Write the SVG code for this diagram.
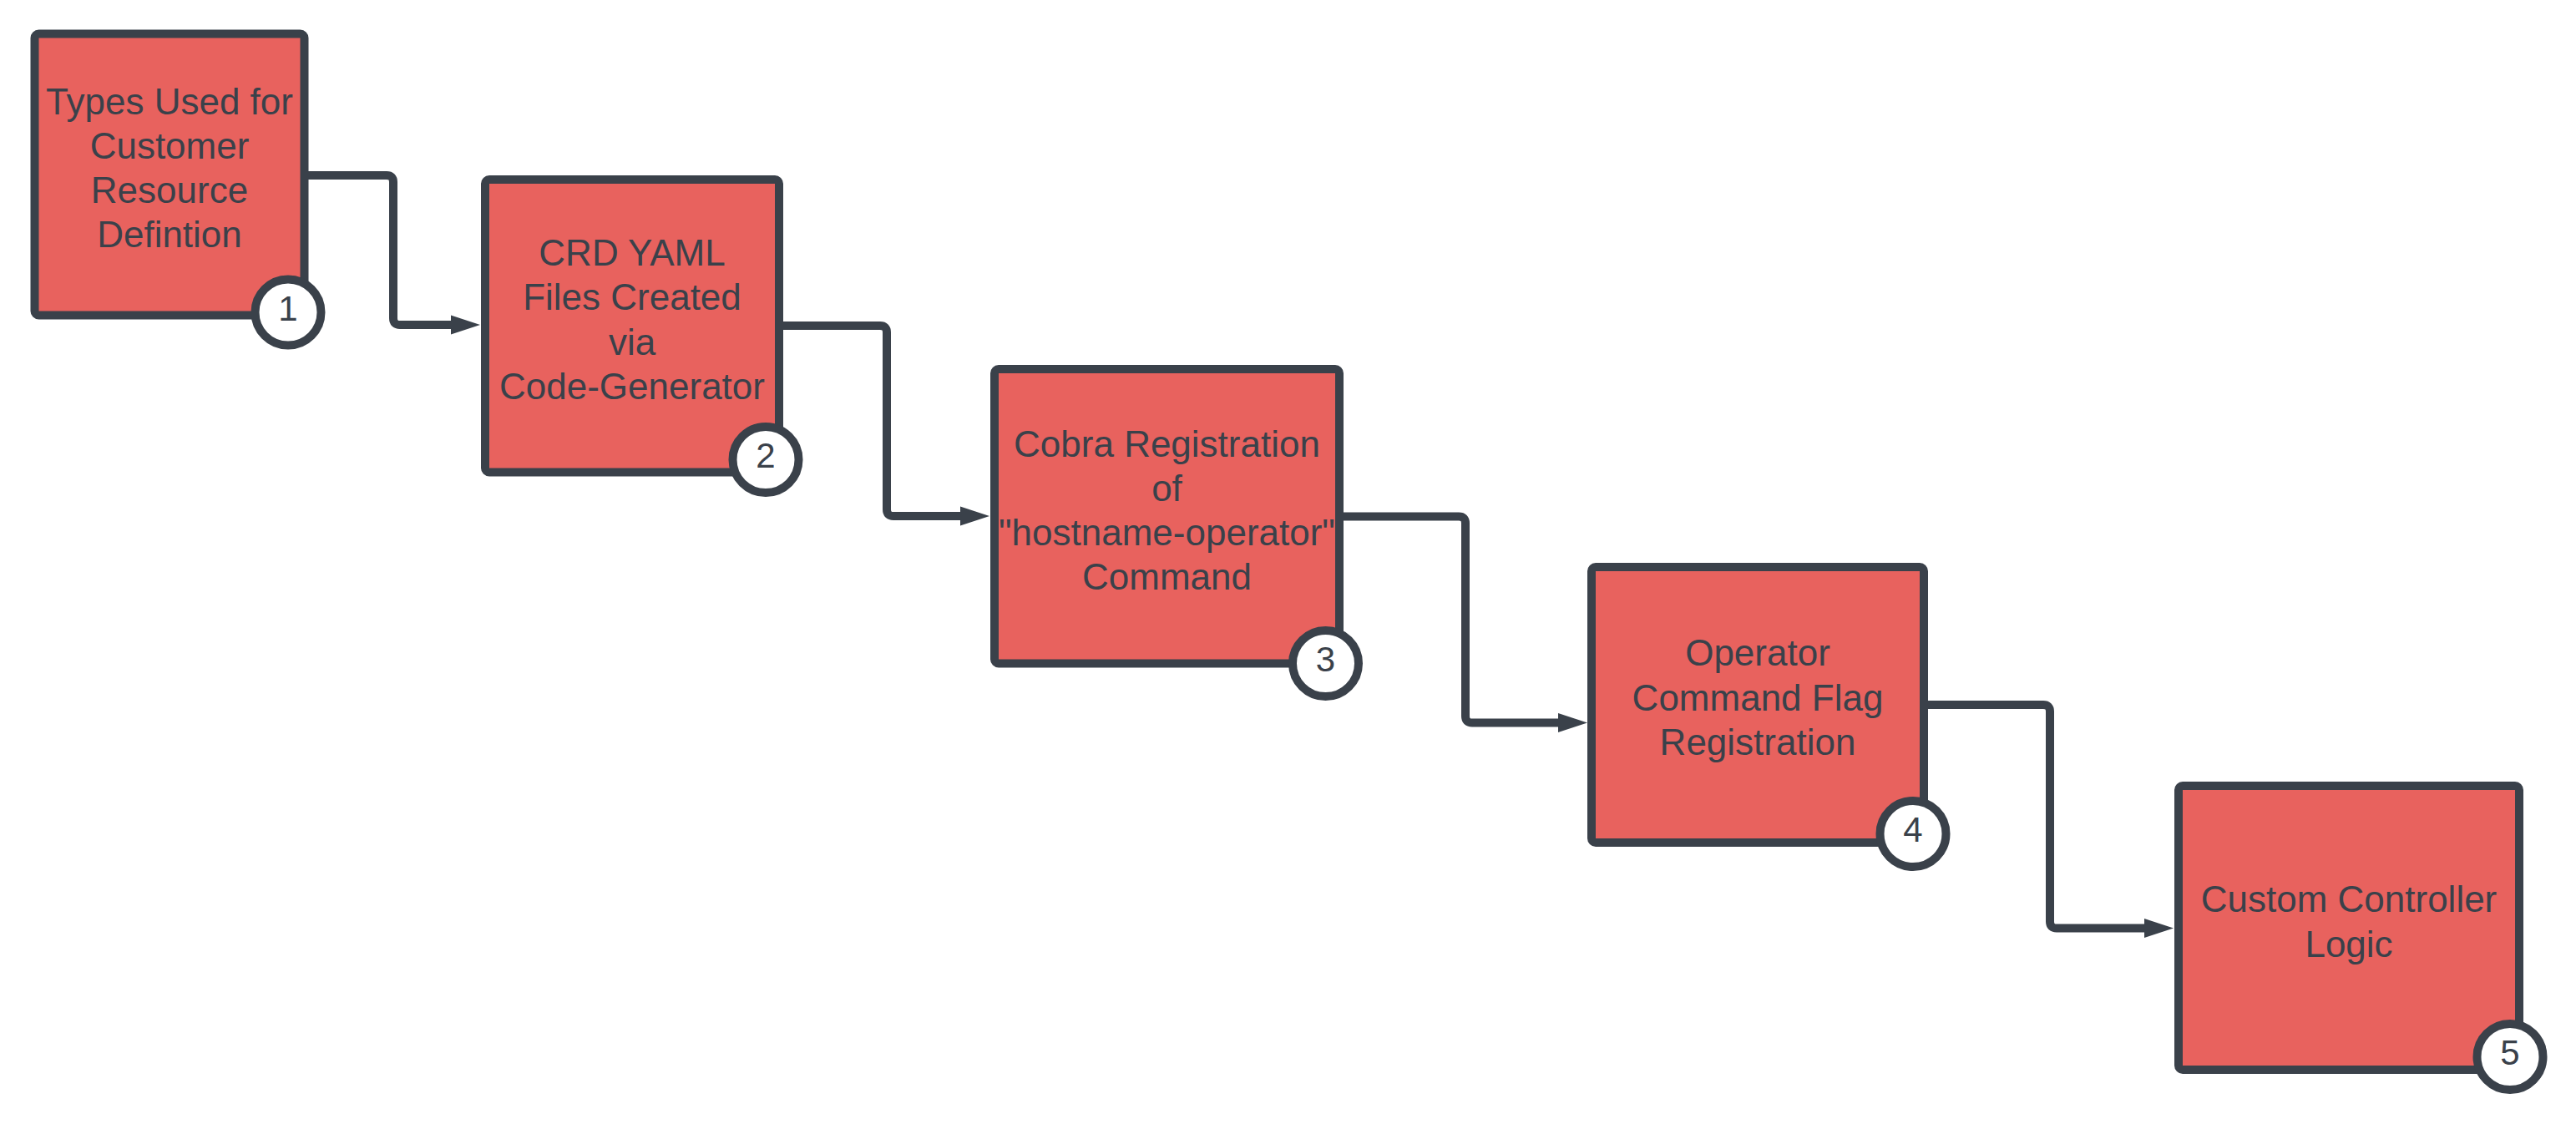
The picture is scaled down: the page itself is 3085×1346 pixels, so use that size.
<svg xmlns="http://www.w3.org/2000/svg" width="3085" height="1346" viewBox="0 0 3085 1346">
<style>
.box{fill:#e8625e;stroke:#3a414a;stroke-width:10}
.badge{fill:#ffffff;stroke:#3a414a;stroke-width:10}
.lbl{font-family:"Liberation Sans",Arial,sans-serif;font-size:44px;fill:#3a414a;text-anchor:middle}
.num{font-family:"Liberation Sans",Arial,sans-serif;font-size:42px;fill:#3a414a;text-anchor:middle}
.conn{fill:none;stroke:#3a414a;stroke-width:10;stroke-linejoin:round}
</style>
<defs>
<marker id="arrow" markerUnits="userSpaceOnUse" markerWidth="36" markerHeight="24" refX="0" refY="12" orient="auto">
<path d="M0,0.5 L35,12 L0,23.5 Z" fill="#3a414a"/>
</marker>
</defs>
<rect width="3085" height="1346" fill="#ffffff"/>
<g id="node1">
<rect class="box" x="41.5" y="40.5" width="323" height="337" rx="5"/>
<text class="lbl" x="203" y="136.5">Types Used for</text>
<text class="lbl" x="203" y="189.6">Customer</text>
<text class="lbl" x="203" y="242.7">Resource</text>
<text class="lbl" x="203" y="295.8">Defintion</text>
<circle class="badge" cx="345" cy="374" r="39.5"/>
<text class="num" x="345" y="383.5">1</text>
</g>
<g id="node2">
<rect class="box" x="581" y="215" width="352" height="350.5" rx="5"/>
<text class="lbl" x="757" y="318.3">CRD YAML</text>
<text class="lbl" x="757" y="371.4">Files Created</text>
<text class="lbl" x="757" y="424.5">via</text>
<text class="lbl" x="757" y="477.6">Code-Generator</text>
<circle class="badge" cx="917" cy="550.5" r="39.5"/>
<text class="num" x="917" y="560">2</text>
</g>
<g id="node3">
<rect class="box" x="1191" y="442" width="413" height="352.5" rx="5"/>
<text class="lbl" x="1397.5" y="547.2">Cobra Registration</text>
<text class="lbl" x="1397.5" y="600.2">of</text>
<text class="lbl" x="1397.5" y="653.2">"hostname-operator"</text>
<text class="lbl" x="1397.5" y="706.2">Command</text>
<circle class="badge" cx="1587.5" cy="794.5" r="39.5"/>
<text class="num" x="1587.5" y="804">3</text>
</g>
<g id="node4">
<rect class="box" x="1906" y="679" width="398" height="330" rx="5"/>
<text class="lbl" x="2105" y="797.3">Operator</text>
<text class="lbl" x="2105" y="850.7">Command Flag</text>
<text class="lbl" x="2105" y="904.1">Registration</text>
<circle class="badge" cx="2291" cy="998.5" r="39.5"/>
<text class="num" x="2291" y="1008">4</text>
</g>
<g id="node5">
<rect class="box" x="2609" y="941" width="408" height="340" rx="5"/>
<text class="lbl" x="2813" y="1092">Custom Controller</text>
<text class="lbl" x="2813" y="1145.5">Logic</text>
<circle class="badge" cx="3006" cy="1265.5" r="39.5"/>
<text class="num" x="3006" y="1275">5</text>
</g>
<g id="connectors">
<path class="conn" marker-end="url(#arrow)" d="M364,210 H463 Q471,210 471,218 V381 Q471,389 479,389 H540"/>
<path class="conn" marker-end="url(#arrow)" d="M933,390 H1054 Q1062,390 1062,398 V610 Q1062,618 1070,618 H1150"/>
<path class="conn" marker-end="url(#arrow)" d="M1604,618.5 H1747 Q1755,618.5 1755,626.5 V857.5 Q1755,865.5 1763,865.5 H1866"/>
<path class="conn" marker-end="url(#arrow)" d="M2304,844 H2447 Q2455,844 2455,852 V1103.5 Q2455,1111.5 2463,1111.5 H2568"/>
</g>
</svg>
